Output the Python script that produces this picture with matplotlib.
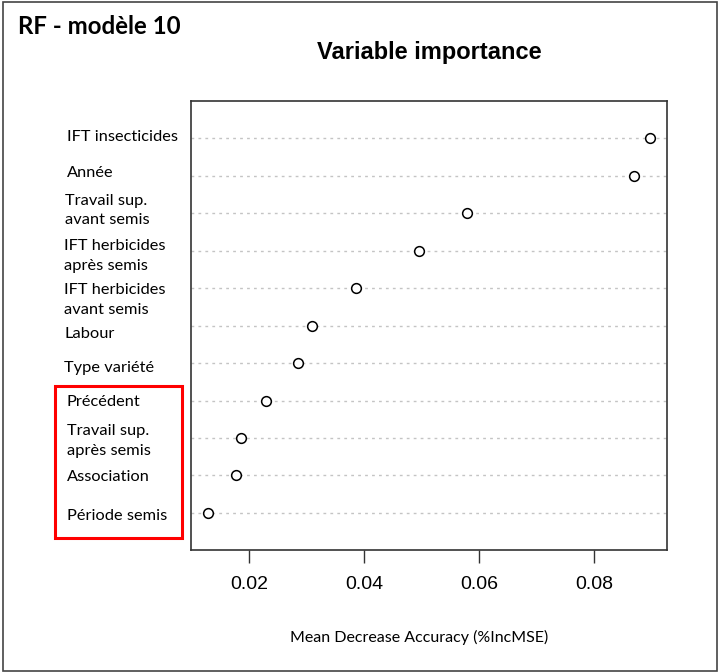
import matplotlib
matplotlib.use("Agg")
import matplotlib.pyplot as plt
from matplotlib.patches import Rectangle
import matplotlib.transforms as mtransforms

# ---- data (top row first) ----
variables = ["IFT insecticides", "Année", "Travail sup.\navant semis",
             "IFT herbicides\naprès semis", "IFT herbicides\navant semis",
             "Labour", "Type variété", "Précédent", "Travail sup.\naprès semis",
             "Association", "Période semis"]
importance = [0.0897, 0.0869, 0.0579, 0.0495, 0.0386, 0.0310, 0.0285,
              0.0229, 0.0185, 0.0177, 0.0129]
xticks = [0.02, 0.04, 0.06, 0.08]
xtick_labels = ["0.02", "0.04", "0.06", "0.08"]
title = "Variable importance"
corner_title = "RF - modèle 10"
xlabel = "Mean Decrease Accuracy (%IncMSE)"

# ---- layout (pixels) ----
W, H = 718, 672
label_x_px = [67, 67, 65, 64, 64, 64, 64, 67, 67, 67, 67]
label_dy_px = [-1, -3, -3, 5, 12, 8, 5, 1, 3, 2, 3]

fig = plt.figure(figsize=(W / 100, H / 100), dpi=100)
fig.patch.set_facecolor("white")

ax = fig.add_axes([190.7 / W, 1 - 550.3 / H, (667.3 - 190.7) / W, (550.3 - 101) / H])

n = len(variables)
ys = list(range(n, 0, -1))

lo, hi = min(importance), max(importance)
ext = 0.04 * (hi - lo)
ax.set_xlim(lo - ext, hi + ext)
ax.set_ylim(0, n + 1)

for y in ys:
    ax.axhline(y, color="#c4c4c4", lw=1.0, linestyle=(0, (2.0, 3.0)), zorder=1)
ax.plot(importance, ys, linestyle="none", marker="o", markersize=7,
        markerfacecolor="white", markeredgecolor="black", markeredgewidth=1.1, zorder=3)

for s in ax.spines.values():
    s.set_color("#333333")
    s.set_linewidth(1.2)

ax.set_yticks([])
ax.set_xticks(xticks)
ax.set_xticklabels(xtick_labels, fontfamily="Liberation Sans", fontsize=14)
ax.tick_params(axis="x", direction="out", length=9.5, width=1.0, color="#333333", pad=9)

# titles
fig.text(429 / W, 1 - 53 / H, title, ha="center", va="center",
         fontfamily="Liberation Sans", fontweight="bold", fontsize=17)
fig.text(18 / W, 1 - 27 / H, corner_title, ha="left", va="center",
         fontfamily="Lato", fontweight="bold", fontsize=17.3)
fig.text(419 / W, 1 - 637.8 / H, xlabel, ha="center", va="center",
         fontfamily="Lato", fontsize=11.5)

# labels
for lab, y, lx, dy in zip(variables, ys, label_x_px, label_dy_px):
    trans = mtransforms.blended_transform_factory(fig.transFigure, ax.transData)
    ax.annotate(lab, xy=(lx / W, y), xycoords=trans, xytext=(0, -dy),
                textcoords="offset pixels", ha="left", va="center",
                fontfamily="Lato", fontsize=11.8, linespacing=1.5,
                annotation_clip=False)

# red highlight box
fig.patches.append(Rectangle((55 / W, 1 - 538.3 / H), (182.3 - 55) / W, (538.3 - 385.7) / H,
                             transform=fig.transFigure, fill=False, edgecolor="#ff0000",
                             linewidth=2.2, zorder=5))
# outer frame
fig.patches.append(Rectangle((2.5 / W, 1.5 / H), (716.5 - 2.5) / W, (670.5 - 1.5) / H,
                             transform=fig.transFigure, fill=False, edgecolor="#444444",
                             linewidth=1.2, zorder=5))

fig.savefig("out.png", dpi=100, facecolor="white")
